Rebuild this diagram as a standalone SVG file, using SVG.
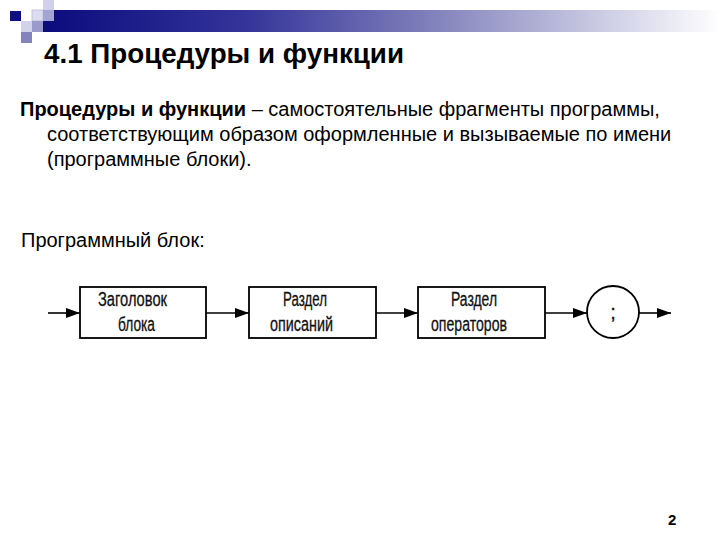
<svg xmlns="http://www.w3.org/2000/svg" width="720" height="540" viewBox="0 0 720 540">
<defs>
<linearGradient id="bar" x1="0" y1="0" x2="1" y2="0">
<stop offset="0" stop-color="#0b0b7e"/>
<stop offset="0.3" stop-color="#34349a"/>
<stop offset="0.55" stop-color="#7a7ab8"/>
<stop offset="0.8" stop-color="#c4c4e0"/>
<stop offset="1" stop-color="#ffffff"/>
</linearGradient>
<marker id="arr" markerWidth="14" markerHeight="10" refX="14" refY="5" orient="auto" markerUnits="userSpaceOnUse">
<path d="M0,0 L14,5 L0,10 Z" fill="#000"/>
</marker>
<style>
.t{font-family:"Liberation Sans",Arial,sans-serif;fill:#000}
.box{fill:#fff;stroke:#000;stroke-width:1.8}
.lbl{font-family:"Liberation Sans",Arial,sans-serif;font-size:20px;fill:#111;stroke:#111;stroke-width:0.3}
.con{stroke:#000;stroke-width:1.6;fill:none;marker-end:url(#arr)}
</style>
</defs>
<rect width="720" height="540" fill="#fff"/>
<g id="decor">
<rect x="43" y="10" width="677" height="22" fill="url(#bar)"/>
<rect x="10" y="11" width="11" height="10" fill="#0e0e80"/>
<rect x="43" y="0" width="11" height="10" fill="#d0d0ea"/>
<rect x="32" y="10" width="11" height="11" fill="#dcdcf0" stroke="#b8b8d8" stroke-width="0.8"/>
<rect x="43" y="10" width="11" height="11" fill="#a4a4d2"/>
<rect x="21" y="21" width="11" height="11" fill="#d2d2ea"/>
<rect x="32" y="21" width="11" height="11" fill="#9a9acc"/>
<rect x="21" y="32" width="11" height="11" fill="#8484bc"/>
</g>
<text class="t" x="44" y="63" font-size="27" font-weight="bold" textLength="360" lengthAdjust="spacingAndGlyphs">4.1 Процедуры и функции</text>
<text class="t" x="20" y="116" font-size="20"><tspan font-weight="bold">Процедуры и функции</tspan> – самостоятельные фрагменты программы,</text>
<text class="t" x="47" y="141" font-size="20">соответствующим образом оформленные и вызываемые по имени</text>
<text class="t" x="47" y="166" font-size="20">(программные блоки).</text>
<text class="t" x="21" y="247" font-size="20">Программный блок:</text>
<g id="connectors">
<line class="con" x1="48" y1="313" x2="80" y2="313"/>
<line class="con" x1="206" y1="313" x2="249" y2="313"/>
<line class="con" x1="376" y1="313" x2="418" y2="313"/>
<line class="con" x1="545" y1="313" x2="587" y2="313"/>
<line class="con" x1="639" y1="313" x2="671" y2="313"/>
</g>
<g id="n1">
<rect class="box" x="80" y="287" width="126" height="51"/>
<text class="lbl" x="98" y="306" textLength="69" lengthAdjust="spacingAndGlyphs">Заголовок</text>
<text class="lbl" x="118" y="331" textLength="37" lengthAdjust="spacingAndGlyphs">блока</text>
</g>
<g id="n2">
<rect class="box" x="249" y="287" width="127" height="51"/>
<text class="lbl" x="283" y="306" textLength="44" lengthAdjust="spacingAndGlyphs">Раздел</text>
<text class="lbl" x="270" y="331" textLength="63" lengthAdjust="spacingAndGlyphs">описаний</text>
</g>
<g id="n3">
<rect class="box" x="418" y="287" width="127" height="51"/>
<text class="lbl" x="451" y="306" textLength="46" lengthAdjust="spacingAndGlyphs">Раздел</text>
<text class="lbl" x="431" y="331" textLength="76" lengthAdjust="spacingAndGlyphs">операторов</text>
</g>
<g id="n4">
<circle class="box" cx="613" cy="312" r="26"/>
<text class="lbl" x="613" y="319" text-anchor="middle">;</text>
</g>
<text class="t" x="668" y="525" font-size="15" font-weight="bold">2</text>
</svg>
